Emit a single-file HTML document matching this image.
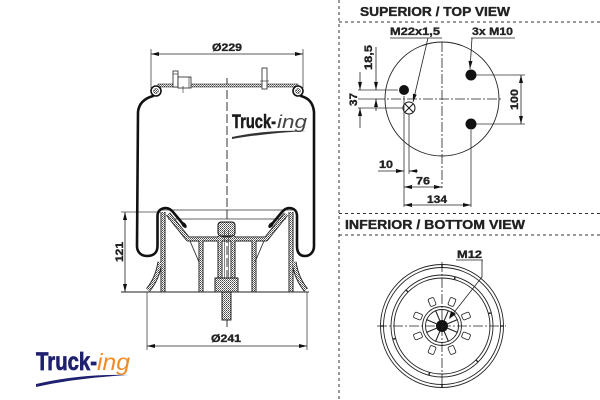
<!DOCTYPE html>
<html><head><meta charset="utf-8"><style>
html,body{margin:0;padding:0;background:#fff;width:600px;height:400px;overflow:hidden}
svg{display:block}
.t{stroke:#222;stroke-width:0.35}
</style></head><body>
<svg width="600" height="400" viewBox="0 0 600 400" xmlns="http://www.w3.org/2000/svg" font-family="'Liberation Sans', Arial, sans-serif">
<defs>
<marker id="ar" viewBox="0 0 10 5" refX="10" refY="2.5" markerWidth="9" markerHeight="4" markerUnits="userSpaceOnUse" orient="auto-start-reverse"><path d="M0,0 L10,2.5 L0,5z" fill="#111"/></marker>
<pattern id="h" patternUnits="userSpaceOnUse" width="2" height="2"><rect width="2" height="2" fill="#fff"/><rect width="1" height="1" fill="#444"/><rect x="1" y="1" width="1" height="1" fill="#777"/></pattern>
</defs>
<rect width="600" height="400" fill="#fff"/>

<!-- ===== MAIN DRAWING ===== -->
<path d="M151,49 V88 M303,49 V88" stroke="#444" stroke-width="0.8" fill="none"/>
<line x1="151" y1="54" x2="303" y2="54" stroke="#222" stroke-width="0.8" marker-start="url(#ar)" marker-end="url(#ar)"/>
<text class="t" x="227" y="51" text-anchor="middle" font-size="11" font-weight="bold" fill="#222" textLength="30" lengthAdjust="spacingAndGlyphs">Ø229</text>

<line x1="227" y1="78" x2="227" y2="328" stroke="#222" stroke-width="0.9" stroke-dasharray="9,3"/>

<rect x="158" y="84" width="140" height="3" fill="url(#h)" stroke="#333" stroke-width="0.6"/>
<rect x="173" y="71" width="5" height="16" fill="#fff" stroke="#222" stroke-width="0.8"/>
<line x1="173" y1="74" x2="178" y2="74" stroke="#222" stroke-width="0.6"/>
<rect x="178" y="77" width="13" height="11" fill="#fff" stroke="#222" stroke-width="0.8"/>
<line x1="189" y1="77" x2="189" y2="88" stroke="#222" stroke-width="0.6"/>
<line x1="183" y1="86" x2="183" y2="93" stroke="#222" stroke-width="0.6"/>
<rect x="262" y="68" width="5" height="21" fill="#fff" stroke="#222" stroke-width="0.8"/>
<line x1="260" y1="81" x2="269" y2="81" stroke="#222" stroke-width="0.6"/>

<circle cx="156" cy="91" r="5" fill="#fff" stroke="#111" stroke-width="1.6"/>
<circle cx="156" cy="91" r="2.5" fill="url(#h)" stroke="#333" stroke-width="0.5"/>
<circle cx="298" cy="91" r="5" fill="#fff" stroke="#111" stroke-width="1.6"/>
<circle cx="298" cy="91" r="2.5" fill="url(#h)" stroke="#333" stroke-width="0.5"/>

<line x1="160" y1="210" x2="294" y2="210" stroke="#333" stroke-width="0.8"/>
<line x1="168" y1="219" x2="286" y2="219" stroke="#333" stroke-width="0.7"/>
<line x1="121" y1="212" x2="160" y2="212" stroke="#444" stroke-width="0.8"/>

<g fill="none" stroke="#222" stroke-width="5" stroke-linejoin="round">
<path d="M163,212 L163,292"/>
<path d="M291,212 L291,292"/>
<path d="M160,262 C158,275 153,284 148,290"/>
<path d="M294,262 C296,275 301,284 306,290"/>
<path d="M168,214 L188,239 L266,239 L286,214"/>
<path d="M201,239 L201,292"/>
<path d="M254,239 L254,292"/>
<path d="M220,236 L220,278"/>
<path d="M233,236 L233,278"/>
</g>
<g fill="none" stroke="url(#h)" stroke-width="3.2" stroke-linejoin="round">
<path d="M163,212 L163,292"/>
<path d="M291,212 L291,292"/>
<path d="M160,262 C158,275 153,284 148,290"/>
<path d="M294,262 C296,275 301,284 306,290"/>
<path d="M168,214 L188,239 L266,239 L286,214"/>
<path d="M201,239 L201,292"/>
<path d="M254,239 L254,292"/>
<path d="M220,236 L220,278"/>
<path d="M233,236 L233,278"/>
</g>
<path d="M190,241 L199,262 M264,241 L255,262" stroke="#333" stroke-width="0.9" fill="none"/>

<rect x="218" y="222" width="17" height="14" rx="3" fill="url(#h)" stroke="#111" stroke-width="1"/>
<line x1="224.5" y1="230" x2="224.5" y2="278" stroke="#333" stroke-width="0.6"/>
<line x1="228.5" y1="230" x2="228.5" y2="278" stroke="#333" stroke-width="0.6"/>
<rect x="215" y="278" width="23" height="14" fill="url(#h)" stroke="#111" stroke-width="0.9"/>
<rect x="222" y="292" width="9" height="28" fill="url(#h)" stroke="#111" stroke-width="0.9"/>

<line x1="121" y1="292" x2="309" y2="292" stroke="#222" stroke-width="1"/>

<g fill="none" stroke="#111" stroke-width="2.6" stroke-linecap="round" stroke-linejoin="round">
<path d="M153,96 C146,98 139,102 138,112 L137,246 C137,252 141,256 147,256 C153,256 157.5,253 157.5,246 L157.5,216 C157.5,211 161,208 166,208 C169,208 171,210 173,212 L183,224"/>
<path d="M301,96 C308,98 313,102 314,112 L314,246 C314,252 310,256 305,256 C300,256 297,253 297,246 L297,216 C297,211 294,208 289,208 C286,208 284,210 282,212 L272,224"/>
</g>
<ellipse cx="184" cy="225" rx="3.5" ry="2" transform="rotate(50 184 225)" fill="#111"/>
<ellipse cx="271" cy="225" rx="3.5" ry="2" transform="rotate(-50 271 225)" fill="#111"/>

<line x1="125" y1="212" x2="125" y2="292" stroke="#222" stroke-width="0.8" marker-start="url(#ar)" marker-end="url(#ar)"/>
<text class="t" transform="translate(123,252) rotate(-90)" text-anchor="middle" font-size="11" font-weight="bold" fill="#222" textLength="20" lengthAdjust="spacingAndGlyphs">121</text>

<path d="M147,292 V350 M307,292 V350" stroke="#444" stroke-width="0.8" fill="none"/>
<line x1="147" y1="346" x2="307" y2="346" stroke="#222" stroke-width="0.8" marker-start="url(#ar)" marker-end="url(#ar)"/>
<text class="t" x="226" y="342" text-anchor="middle" font-size="11" font-weight="bold" fill="#222" textLength="30" lengthAdjust="spacingAndGlyphs">Ø241</text>

<text x="232" y="128" font-size="19" font-weight="bold" fill="#1a1a1a" stroke="#1a1a1a" stroke-width="0.5" textLength="44" lengthAdjust="spacingAndGlyphs">Truck-</text>
<text x="277" y="128" font-size="18" font-style="italic" fill="#444" textLength="30" lengthAdjust="spacingAndGlyphs">ing</text>
<path d="M232,137 C255,132 280,130 306,131 C280,132.5 255,135 232,139 Z" fill="#333"/>

<text x="36" y="370" font-size="25" font-weight="bold" fill="#1f2070" stroke="#1f2070" stroke-width="0.7" textLength="61" lengthAdjust="spacingAndGlyphs">Truck-</text>
<text x="97" y="370" font-size="23" font-style="italic" fill="#f08c28" textLength="33" lengthAdjust="spacingAndGlyphs">ing</text>
<path d="M36,384 C62,378 92,374 128,375 C95,377 62,381 36,387 Z" fill="#1f2070"/>

<!-- ===== RIGHT PANEL ===== -->
<g stroke="#333" stroke-width="1" stroke-dasharray="3,3" fill="none">
<line x1="339" y1="0" x2="339" y2="400"/>
<line x1="339" y1="22" x2="600" y2="22"/>
<line x1="339" y1="213.5" x2="600" y2="213.5"/>
<line x1="339" y1="235" x2="600" y2="235"/>
</g>
<text class="t" x="360" y="16" font-size="12.5" font-weight="bold" fill="#222" textLength="150" lengthAdjust="spacingAndGlyphs">SUPERIOR / TOP VIEW</text>
<text class="t" x="345" y="229" font-size="12.5" font-weight="bold" fill="#222" textLength="180" lengthAdjust="spacingAndGlyphs">INFERIOR / BOTTOM VIEW</text>

<circle cx="442" cy="99" r="57" fill="none" stroke="#222" stroke-width="0.9"/>
<line x1="375" y1="99" x2="503" y2="99" stroke="#222" stroke-width="0.8" stroke-dasharray="10,2,2,2"/>
<line x1="442" y1="42" x2="442" y2="188" stroke="#222" stroke-width="0.8" stroke-dasharray="10,2,2,2"/>
<circle cx="404" cy="90" r="5" fill="#111"/>
<circle cx="471" cy="75" r="5.5" fill="#111"/>
<circle cx="471" cy="124" r="5.5" fill="#111"/>
<circle cx="409" cy="108" r="6" fill="#fff" stroke="#111" stroke-width="1"/>
<path d="M405,104 L413,112 M413,104 L405,112" stroke="#111" stroke-width="1"/>

<text class="t" x="390" y="35" font-size="11" font-weight="bold" fill="#222" textLength="50" lengthAdjust="spacingAndGlyphs">M22x1,5</text>
<line x1="390" y1="38" x2="442" y2="38" stroke="#222" stroke-width="0.8"/>
<line x1="428" y1="38" x2="413" y2="102" stroke="#222" stroke-width="0.8" marker-end="url(#ar)"/>
<text class="t" x="472" y="35" font-size="11" font-weight="bold" fill="#222" textLength="41" lengthAdjust="spacingAndGlyphs">3x M10</text>
<line x1="471" y1="38" x2="515" y2="38" stroke="#222" stroke-width="0.8"/>
<line x1="472" y1="38" x2="470" y2="69" stroke="#222" stroke-width="0.8" marker-end="url(#ar)"/>

<path d="M476,75 H525 M476,124 H525" stroke="#333" stroke-width="0.8" fill="none"/>
<line x1="521" y1="75" x2="521" y2="124" stroke="#222" stroke-width="0.8" marker-start="url(#ar)" marker-end="url(#ar)"/>
<text class="t" transform="translate(518,99.5) rotate(-90)" text-anchor="middle" font-size="11" font-weight="bold" fill="#222" textLength="21" lengthAdjust="spacingAndGlyphs">100</text>

<path d="M358,90 H398 M358,108 H404 M358,99 H375" stroke="#333" stroke-width="0.8" fill="none"/>
<line x1="376" y1="47" x2="376" y2="90" stroke="#222" stroke-width="0.8" marker-end="url(#ar)"/>
<line x1="376" y1="111" x2="376" y2="99" stroke="#222" stroke-width="0.8" marker-end="url(#ar)"/>
<text class="t" transform="translate(372,57.5) rotate(-90)" text-anchor="middle" font-size="11" font-weight="bold" fill="#222" textLength="25" lengthAdjust="spacingAndGlyphs">18,5</text>
<line x1="360" y1="72" x2="360" y2="90" stroke="#222" stroke-width="0.8" marker-end="url(#ar)"/>
<line x1="360" y1="128" x2="360" y2="108" stroke="#222" stroke-width="0.8" marker-end="url(#ar)"/>
<text class="t" transform="translate(357,99.5) rotate(-90)" text-anchor="middle" font-size="11" font-weight="bold" fill="#222" textLength="13" lengthAdjust="spacingAndGlyphs">37</text>

<path d="M404,96 V207 M409,114 V174 M471,130 V207" stroke="#333" stroke-width="0.8" fill="none"/>
<line x1="378" y1="171" x2="404" y2="171" stroke="#222" stroke-width="0.8" marker-end="url(#ar)"/>
<line x1="409" y1="171" x2="418" y2="171" stroke="#222" stroke-width="0.8"/>
<path d="M409,171 L417,169.3 L417,172.7Z" fill="#111"/>
<text class="t" x="379" y="168" font-size="11" font-weight="bold" fill="#222" textLength="14" lengthAdjust="spacingAndGlyphs">10</text>
<line x1="404" y1="187" x2="442" y2="187" stroke="#222" stroke-width="0.8" marker-start="url(#ar)" marker-end="url(#ar)"/>
<text class="t" x="416" y="184.5" font-size="11" font-weight="bold" fill="#222" textLength="14" lengthAdjust="spacingAndGlyphs">76</text>
<line x1="404" y1="205" x2="471" y2="205" stroke="#222" stroke-width="0.8" marker-start="url(#ar)" marker-end="url(#ar)"/>
<text class="t" x="427" y="203" font-size="11" font-weight="bold" fill="#222" textLength="20" lengthAdjust="spacingAndGlyphs">134</text>

<g transform="translate(442,326)" fill="none" stroke="#222" stroke-width="0.9">
<circle r="61.5"/><circle r="58.5"/><circle r="51"/><circle r="48"/><circle r="19.5"/><circle r="16.5"/>
<g stroke-width="1.4">
<line x1="0" y1="-48" x2="0" y2="-51" transform="rotate(15)"/>
<line x1="0" y1="-48" x2="0" y2="-51" transform="rotate(75)"/>
<line x1="0" y1="-48" x2="0" y2="-51" transform="rotate(135)"/>
<line x1="0" y1="-48" x2="0" y2="-51" transform="rotate(195)"/>
<line x1="0" y1="-48" x2="0" y2="-51" transform="rotate(255)"/>
<line x1="0" y1="-48" x2="0" y2="-51" transform="rotate(315)"/>
<line x1="0" y1="-58.5" x2="0" y2="-61.5" transform="rotate(0)"/>
<line x1="0" y1="-58.5" x2="0" y2="-61.5" transform="rotate(90)"/>
<line x1="0" y1="-58.5" x2="0" y2="-61.5" transform="rotate(180)"/>
<line x1="0" y1="-58.5" x2="0" y2="-61.5" transform="rotate(270)"/>
</g>
<g stroke-width="1.1">
<line x1="0" y1="-6" x2="0" y2="-17" transform="rotate(22.5)"/>
<line x1="0" y1="-6" x2="0" y2="-17" transform="rotate(67.5)"/>
<line x1="0" y1="-6" x2="0" y2="-17" transform="rotate(112.5)"/>
<line x1="0" y1="-6" x2="0" y2="-17" transform="rotate(157.5)"/>
<line x1="0" y1="-6" x2="0" y2="-17" transform="rotate(202.5)"/>
<line x1="0" y1="-6" x2="0" y2="-17" transform="rotate(247.5)"/>
<line x1="0" y1="-6" x2="0" y2="-17" transform="rotate(292.5)"/>
<line x1="0" y1="-6" x2="0" y2="-17" transform="rotate(337.5)"/>
</g>
<g fill="#fff" stroke-width="0.8">
<rect x="-3" y="-30" width="6" height="8" rx="1.5" transform="rotate(22.5)"/>
<rect x="-3" y="-30" width="6" height="8" rx="1.5" transform="rotate(67.5)"/>
<rect x="-3" y="-30" width="6" height="8" rx="1.5" transform="rotate(112.5)"/>
<rect x="-3" y="-30" width="6" height="8" rx="1.5" transform="rotate(157.5)"/>
<rect x="-3" y="-30" width="6" height="8" rx="1.5" transform="rotate(202.5)"/>
<rect x="-3" y="-30" width="6" height="8" rx="1.5" transform="rotate(247.5)"/>
<rect x="-3" y="-30" width="6" height="8" rx="1.5" transform="rotate(292.5)"/>
<rect x="-3" y="-30" width="6" height="8" rx="1.5" transform="rotate(337.5)"/>
</g>
<circle r="6" fill="#111" stroke="none"/>
</g>
<line x1="377" y1="326" x2="506" y2="326" stroke="#222" stroke-width="0.8" stroke-dasharray="10,2,2,2"/>
<line x1="442" y1="262" x2="442" y2="390" stroke="#222" stroke-width="0.8" stroke-dasharray="10,2,2,2"/>
<text class="t" x="457" y="258" font-size="11" font-weight="bold" fill="#222" textLength="25" lengthAdjust="spacingAndGlyphs">M12</text>
<line x1="456" y1="260" x2="483" y2="260" stroke="#222" stroke-width="0.8"/>
<path d="M482,260 L482,277 L452,315" stroke="#222" stroke-width="0.8" fill="none"/>
<path d="M449,319 L451,311 L456,314Z" fill="#111"/>
</svg>
</body></html>
